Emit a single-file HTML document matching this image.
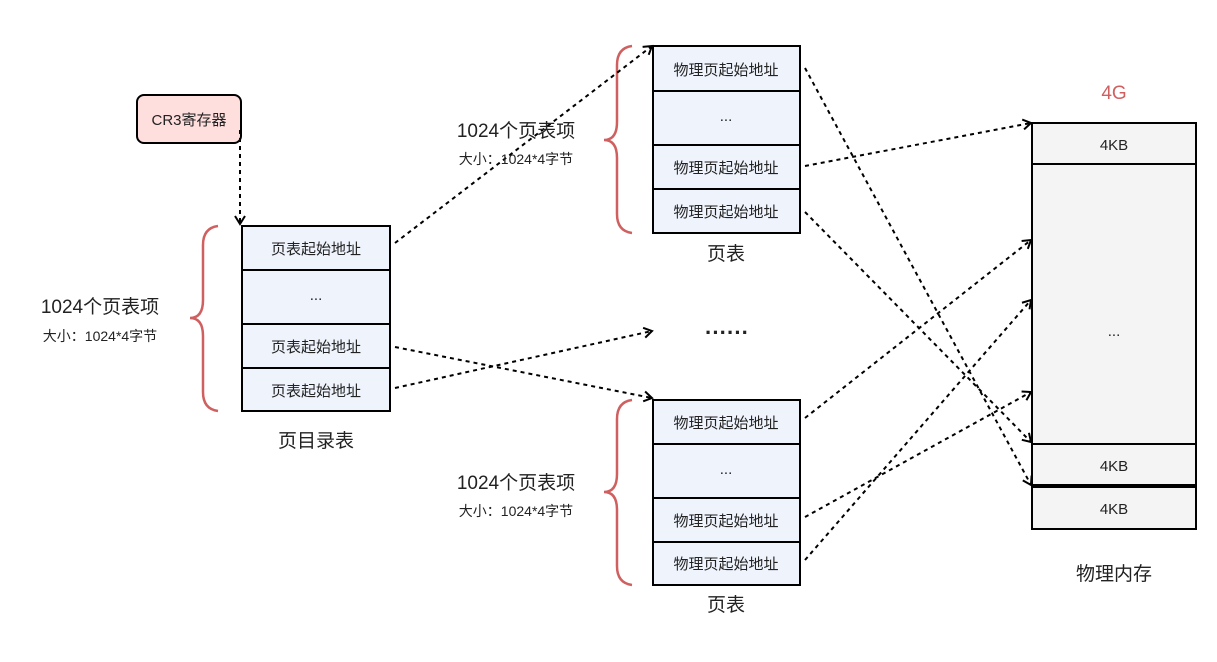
<!DOCTYPE html>
<html><head><meta charset="utf-8"><style>
body{margin:0;background:#fff}
text{font-family:"Liberation Sans","Noto Sans CJK SC",sans-serif;fill:#222}
</style></head><body>
<svg width="1217" height="657" viewBox="0 0 1217 657" xmlns="http://www.w3.org/2000/svg">
<defs><marker id="a" markerWidth="12" markerHeight="12" refX="10" refY="6" orient="auto" markerUnits="userSpaceOnUse"><path d="M2,1 L10,6 L2,11" fill="none" stroke="#000" stroke-width="2"/></marker></defs>
<g stroke="#000" stroke-width="2" fill="#eef3fc">
<rect x="137" y="95" width="104" height="48" rx="7" fill="#ffdede"/>
<rect x="242" y="226" width="148" height="44"/><rect x="242" y="270" width="148" height="54"/><rect x="242" y="324" width="148" height="44"/><rect x="242" y="368" width="148" height="43"/>
<rect x="653" y="46" width="147" height="45"/><rect x="653" y="91" width="147" height="54"/><rect x="653" y="145" width="147" height="44"/><rect x="653" y="189" width="147" height="44"/>
<rect x="653" y="400" width="147" height="44"/><rect x="653" y="444" width="147" height="54"/><rect x="653" y="498" width="147" height="44"/><rect x="653" y="542" width="147" height="43"/>
<g fill="#f4f4f4"><rect x="1032" y="123" width="164" height="41"/><rect x="1032" y="164" width="164" height="280"/><rect x="1032" y="444" width="164" height="42"/><rect x="1032" y="487" width="164" height="42"/></g>
<line x1="1032" y1="486" x2="1196" y2="486" stroke-width="4"/>
</g>
<g fill="none" stroke="#d06060" stroke-width="2.5">
<path d="M218,226 Q203,228 203,245 L203,300 Q203,318 190,318 Q203,318 203,336 L203,392 Q203,409 218,411"/>
<path d="M632,46 Q617,48 617,65 L617,122 Q617,140 604,140 Q617,140 617,158 L617,214 Q617,231 632,233"/>
<path d="M632,400 Q617,402 617,419 L617,474 Q617,492 604,492 Q617,492 617,510 L617,566 Q617,583 632,585"/>
</g>
<g stroke="#000" stroke-width="2" stroke-dasharray="4,4" fill="none" marker-end="url(#a)">
<line x1="240" y1="130" x2="240" y2="224"/>
<line x1="395" y1="243" x2="652" y2="46"/>
<line x1="395" y1="347" x2="652" y2="398"/>
<line x1="395" y1="388" x2="652" y2="331"/>
<line x1="805" y1="68" x2="1031" y2="485"/>
<line x1="805" y1="166" x2="1031" y2="123"/>
<line x1="805" y1="212" x2="1031" y2="442"/>
<line x1="805" y1="418" x2="1031" y2="240"/>
<line x1="805" y1="517" x2="1031" y2="392"/>
<line x1="805" y1="560" x2="1031" y2="300"/>
</g>
<g text-anchor="middle" font-size="15">
<text x="189" y="125">CR3寄存器</text>
<text x="316" y="254">页表起始地址</text><text x="316" y="300">...</text><text x="316" y="352">页表起始地址</text><text x="316" y="396">页表起始地址</text>
<text x="726" y="75">物理页起始地址</text><text x="726" y="121">...</text><text x="726" y="173">物理页起始地址</text><text x="726" y="217">物理页起始地址</text>
<text x="726" y="428">物理页起始地址</text><text x="726" y="474">...</text><text x="726" y="526">物理页起始地址</text><text x="726" y="569">物理页起始地址</text>
<text x="1114" y="150">4KB</text><text x="1114" y="336">...</text><text x="1114" y="471">4KB</text><text x="1114" y="514">4KB</text>
<text x="316" y="447" font-size="19">页目录表</text>
<text x="726" y="260" font-size="19">页表</text><text x="726" y="611" font-size="19">页表</text>
<text x="1114" y="580" font-size="19">物理内存</text>
<text x="1114" y="99" font-size="19" style="fill:#d06060">4G</text>
<text x="100" y="313" font-size="19">1024个页表项</text><text x="100" y="341" font-size="14">大小：1024*4字节</text>
<text x="516" y="137" font-size="19">1024个页表项</text><text x="516" y="164" font-size="14">大小：1024*4字节</text>
<text x="516" y="489" font-size="19">1024个页表项</text><text x="516" y="516" font-size="14">大小：1024*4字节</text>
<text x="727" y="340" font-size="22" font-weight="bold">······</text>
</g>
</svg>
</body></html>
